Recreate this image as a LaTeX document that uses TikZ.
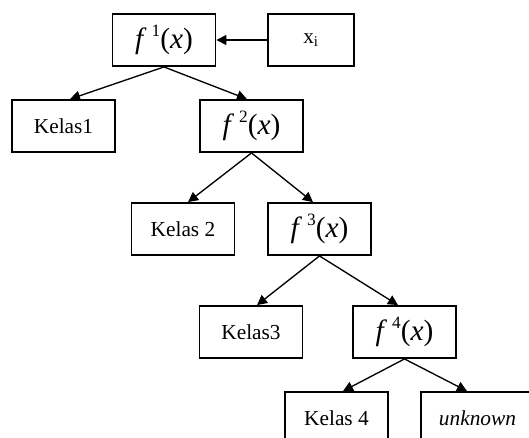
\documentclass[tikz,border=0pt]{standalone}
\usepackage{amsmath}
\usepackage{fontspec}
\setmainfont{Liberation Serif}[ItalicFont={Liberation Serif Italic}]
\usetikzlibrary{arrows.meta}

\tikzset{
  box/.style={draw, line width=1.4pt, minimum width=77.25pt, minimum height=39pt, inner sep=0pt, font=\fontsize{16}{18}\selectfont},
  fbox/.style={box, font=\fontsize{22}{24}\selectfont},
  arr/.style={-{Triangle[length=7.5pt,width=7.5pt]}, line width=1pt}
}
\newcommand{\fx}[1]{\textit{f}\,\raisebox{0.42em}{\fontsize{13}{14}\selectfont #1}(\textit{x})}

\begin{document}
\begin{tikzpicture}[x=0.75pt,y=0.75pt,yscale=-1,xscale=1]
\clip (0,0) rectangle (529,437);

%Function boxes
\node[fbox] (f1) at (164,40) {\fx{1}};
\node[fbox] (f2) at (251.5,126) {\fx{2}};
\node[fbox] (f3) at (319.5,229) {\fx{3}};
\node[fbox] (f4) at (404.5,332) {\fx{4}};

%Input
\node[box, minimum width=64.5pt] (xi) at (311,40) {x\textsubscript{i}};

%Class boxes
\node[box] (kelas1) at (63.5,126) {Kelas1};
\node[box] (kelas2) at (183,229) {Kelas 2};
\node[box] (kelas3) at (251,332) {Kelas3};
\node[box] (kelas4) at (336.5,418) {Kelas 4};
\node[box, minimum width=84.75pt] (unknown) at (477.5,418) {\textit{unknown}};

%Arrows
\draw[arr] (xi.west) -- (f1.east);
\draw[arr] (f1.south) -- ([xshift=4.9pt]kelas1.north);
\draw[arr] (f1.south) -- ([xshift=-3.4pt]f2.north);
\draw[arr] (f2.south) -- ([xshift=3.8pt]kelas2.north);
\draw[arr] (f2.south) -- ([xshift=-4.9pt]f3.north);
\draw[arr] (f3.south) -- ([xshift=4.5pt]kelas3.north);
\draw[arr] (f3.south) -- ([xshift=-4.9pt]f4.north);
\draw[arr] (f4.south) -- ([xshift=4.9pt]kelas4.north);
\draw[arr] (f4.south) -- ([xshift=-7.9pt]unknown.north);

\end{tikzpicture}
\end{document}
